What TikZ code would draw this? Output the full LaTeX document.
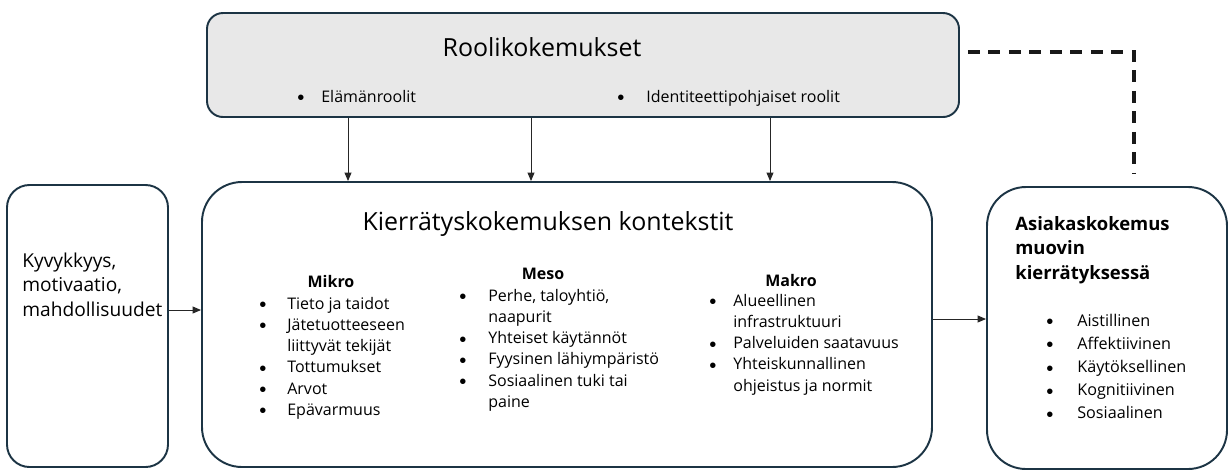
\documentclass[tikz,border=0pt]{standalone}
\usepackage{fontspec}
\setmainfont{Open Sans}
\newfontfamily\bulfont{Liberation Sans}
\usetikzlibrary{calc,fit,arrows.meta}
\definecolor{edge}{HTML}{1C3444}
\definecolor{shade}{HTML}{E8E8E8}
\newcommand{\bul}{\raisebox{-1.5pt}{\bulfont\fontsize{11.5}{0}\selectfont\textbullet}}
\newcommand{\blist}[2][0.52cm]{\begin{tabular}[t]{@{}p{#1}@{}l@{}}#2\end{tabular}}

\begin{document}
\begin{tikzpicture}[x=0.02cm, y=-0.02cm,
  box/.style={draw=edge, line width=1.1pt, inner sep=0pt},
  arr/.style={-{Triangle[length=0.17cm,width=0.14cm]}, line width=0.55pt, draw=black!85},
  dashline/.style={line width=1.8pt, dash pattern=on 0.24cm off 0.17cm, draw=black!90},
  title/.style={font=\fontsize{14.2}{17}\selectfont, anchor=base, inner sep=0pt},
  body/.style={font=\fontsize{9.1}{12.1}\selectfont, anchor=base west, inner sep=0pt},
  head/.style={font=\fontsize{9.1}{12.1}\selectfont\bfseries, anchor=base, inner sep=0pt}]

  \useasboundingbox (0,0) rectangle (1230,471);

  % boxes
  \node[box, fill=shade, rounded corners=0.32cm, fit={(207,13) (959,117)}] (roles) {};
  \node[box, rounded corners=0.8cm, fit={(202,182) (932,467)}] (ctx) {};
  \node[box, rounded corners=0.45cm, fit={(7,185) (168,467)}] (cap) {};
  \node[box, rounded corners=0.78cm, fit={(987,187) (1227,469)}] (exp) {};

  % roles
  \node[title] (rolestitle) at (542,56) {Roolikokemukset};
  \node[body] (life) at (297,102) {\blist[0.48cm]{\bul & Elämänroolit}};
  \node[body] (ident) at (617,102) {\blist[0.58cm]{\bul & Identiteettipohjaiset roolit}};

  % contexts
  \node[title] (ctxtitle) at (548,230) {Kierrätyskokemuksen kontekstit};

  \node[head] (mikro) at (331,287) {Mikro};
  \node[body] (mikrolist) at (259,309) {\blist[0.56cm]{%
    \bul & Tieto ja taidot\\
    \bul & Jätetuotteeseen\\
         & liittyvät tekijät\\
    \bul & Tottumukset\\
    \bul & Arvot\\
    \bul & Epävarmuus}};

  \node[head] (meso) at (543,279) {Meso};
  \node[body] (mesolist) at (459,301) {\blist[0.58cm]{%
    \bul & Perhe, taloyhtiö,\\
         & naapurit\\
    \bul & Yhteiset käytännöt\\
    \bul & Fyysinen lähiympäristö\\
    \bul & Sosiaalinen tuki tai\\
         & paine}};

  \node[head] (makro) at (791,286) {Makro};
  \node[body] (makrolist) at (709,306) {\blist[0.48cm]{%
    \bul & Alueellinen\\
         & infrastruktuuri\\
    \bul & Palveluiden saatavuus\\
    \bul & Yhteiskunnallinen\\
         & ohjeistus ja normit}};

  % capability
  \node[body, font=\fontsize{10.9}{14.2}\selectfont] (captext) at (22,267)
    {\begin{tabular}[t]{@{}l@{}}Kyvykkyys,\\motivaatio,\\mahdollisuudet\end{tabular}};

  % experience
  \node[body, font=\fontsize{10.5}{14.2}\selectfont\bfseries] (exptitle) at (1015,230)
    {\begin{tabular}[t]{@{}l@{}}Asiakaskokemus\\muovin\\kierrätyksessä\end{tabular}};
  \node[body, font=\fontsize{9.2}{13.2}\selectfont] (explist) at (1046,326) {\blist[0.62cm]{%
    \bul & Aistillinen\\
    \bul & Affektiivinen\\
    \bul & Käytöksellinen\\
    \bul & Kognitiivinen\\
    \bul & Sosiaalinen}};

  % connectors
  \coordinate (a1) at (348,0);
  \coordinate (a2) at (531,0);
  \coordinate (a3) at (770,0);
  \coordinate (r1) at (0,310);
  \coordinate (r2) at (0,319);
  \coordinate (d1) at (1134,52);
  \foreach \c in {a1,a2,a3}
    \draw[arr] (roles.south -| \c) -- (ctx.north -| \c);
  \draw[arr] (cap.east |- r1) -- (ctx.west |- r1);
  \draw[arr] (ctx.east |- r2) -- (exp.west |- r2);
  \draw[dashline] ($(roles.east |- d1)+(8,0)$) -| ($(exp.north -| d1)+(0,-12)$);

\end{tikzpicture}
\end{document}
